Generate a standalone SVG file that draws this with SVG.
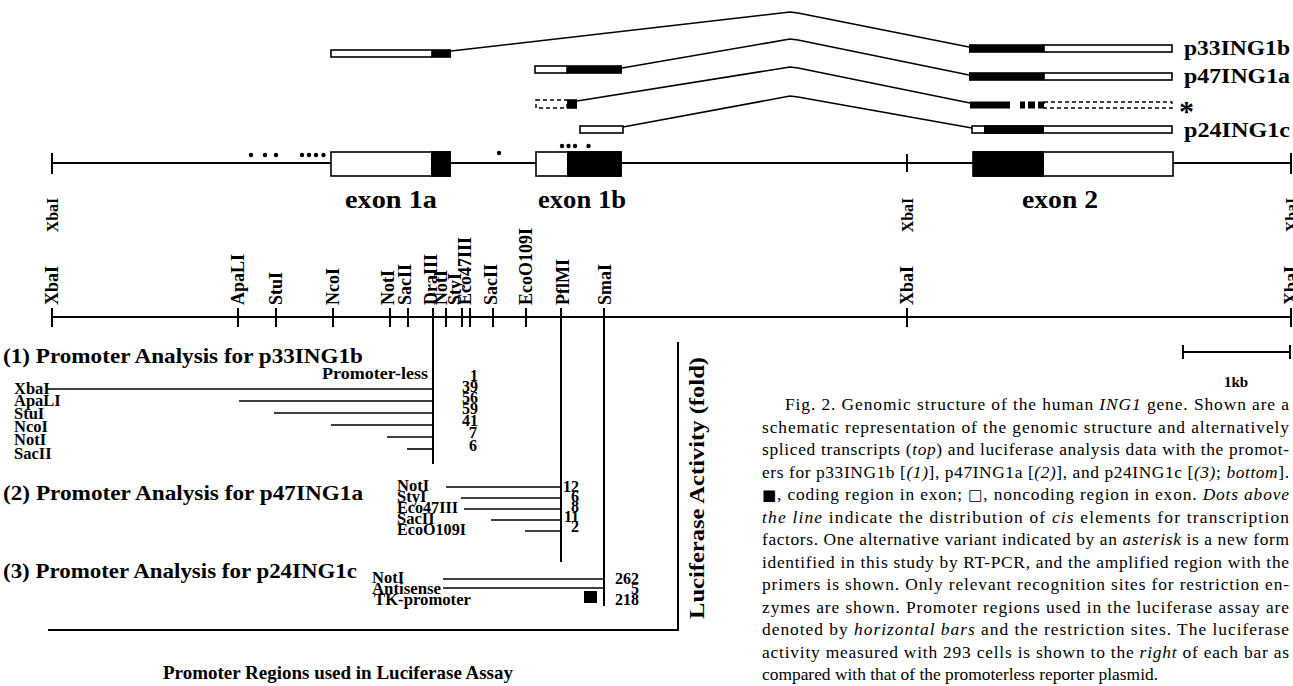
<svg xmlns="http://www.w3.org/2000/svg" width="1293" height="686" viewBox="0 0 1293 686">
<style>
.b{font-family:"Liberation Serif","Times New Roman",serif;font-weight:bold;fill:#000}
.cap{font-family:"Liberation Serif","Times New Roman",serif;font-size:17.4px;fill:#000}
.sym{font-family:"DejaVu Sans",sans-serif;font-size:15px}
.ln{stroke:#000;stroke-width:2;fill:none}
.th{stroke:#000;stroke-width:1.6;fill:none}
.wb{fill:#fff;stroke:#000;stroke-width:1.6}
.db{fill:#fff;stroke:#000;stroke-width:1.4;stroke-dasharray:4 3}
.k{fill:#000}
.rl{font-size:18px}
.sl{font-size:16.5px}
.nm{font-size:16px}
</style>
<rect width="1293" height="686" fill="#fff"/>

<g id="connectors">
<polyline class="th" points="451,51 790,12 798,13 969,47"/>
<polyline class="th" points="622,68 790,39 798,40 969,75"/>
<polyline class="th" points="577,101 790,67 798,68 970,103"/>
<polyline class="th" points="623,127 790,96 798,97 972,128"/>
</g>

<g id="transcript-p33ING1b">
<rect class="wb" x="331" y="50" width="101" height="7"/>
<rect class="k" x="432" y="49.2" width="19" height="8.6"/>
<rect class="wb" x="1044" y="45" width="128" height="7"/>
<rect class="k" x="969" y="44.2" width="75" height="8.6"/>
<text class="b" x="1184" y="55" font-size="22" textLength="106" lengthAdjust="spacingAndGlyphs">p33ING1b</text>
</g>
<g id="transcript-p47ING1a">
<rect class="wb" x="535" y="66" width="32" height="7"/>
<rect class="k" x="567" y="65.2" width="55" height="8.6"/>
<rect class="wb" x="1044" y="73" width="128" height="7"/>
<rect class="k" x="969" y="72.2" width="75" height="8.6"/>
<text class="b" x="1184" y="83" font-size="22" textLength="106" lengthAdjust="spacingAndGlyphs">p47ING1a</text>
</g>
<g id="transcript-asterisk">
<rect class="db" x="536" y="100" width="31" height="8"/>
<rect class="k" x="567" y="99.2" width="10" height="9.6"/>
<rect class="k" x="970" y="101.5" width="40" height="7"/>
<rect class="k" x="1020" y="101.5" width="5" height="7"/>
<rect class="k" x="1028" y="101.5" width="7" height="7"/>
<rect class="k" x="1038" y="101.5" width="6" height="7"/>
<rect class="db" x="1044" y="102" width="128" height="6"/>
<text class="b" x="1179" y="121" font-size="30">*</text>
</g>
<g id="transcript-p24ING1c">
<rect class="wb" x="580" y="126" width="43" height="7"/>
<rect class="wb" x="972" y="126" width="200" height="7"/>
<rect class="k" x="984" y="125.2" width="60" height="8.6"/>
<text class="b" x="1184" y="137" font-size="22" textLength="106" lengthAdjust="spacingAndGlyphs">p24ING1c</text>
</g>

<g id="gene-map">
<line class="ln" x1="52" y1="163" x2="1291" y2="163"/>
<line class="ln" x1="52" y1="153" x2="52" y2="174"/>
<line class="ln" x1="907" y1="154" x2="907" y2="172"/>
<line class="ln" x1="1291" y1="153" x2="1291" y2="174"/>
<g fill="#000">
<circle cx="251" cy="155" r="2.2"/><circle cx="265" cy="155" r="2.2"/><circle cx="276" cy="155" r="2.2"/>
<circle cx="302" cy="155" r="2.2"/><circle cx="309" cy="155" r="2.2"/><circle cx="316" cy="155" r="2.2"/><circle cx="323.5" cy="155" r="2.2"/>
<circle cx="499" cy="153" r="2.2"/>
<circle cx="562" cy="146" r="2.2"/><circle cx="568.5" cy="146" r="2.2"/><circle cx="575" cy="146" r="2.2"/><circle cx="588.5" cy="146" r="2.2"/>
</g>
</g>
<g id="exon-1a">
<rect class="wb" x="331" y="152" width="119" height="24"/>
<rect class="k" x="431" y="151.2" width="19.8" height="25.6"/>
<text class="b" x="391" y="208" font-size="26" text-anchor="middle" textLength="92" lengthAdjust="spacingAndGlyphs">exon 1a</text>
</g>
<g id="exon-1b">
<rect class="wb" x="536" y="152" width="85" height="24"/>
<rect class="k" x="567" y="151.2" width="54.8" height="25.6"/>
<text class="b" x="582" y="208" font-size="26" text-anchor="middle" textLength="88" lengthAdjust="spacingAndGlyphs">exon 1b</text>
</g>
<g id="exon-2">
<rect class="wb" x="973" y="152" width="200" height="24"/>
<rect class="k" x="973" y="151.2" width="71" height="25.6"/>
<text class="b" x="1060" y="208" font-size="26" text-anchor="middle" textLength="76" lengthAdjust="spacingAndGlyphs">exon 2</text>
</g>
<g id="gene-sites" class="b" font-size="16" text-anchor="middle">
<text transform="translate(58,215) rotate(-90)">XbaI</text>
<text transform="translate(913,215) rotate(-90)">XbaI</text>
<text transform="translate(1297,215) rotate(-90)">XbaI</text>
</g>

<g id="restriction-map">
<line class="ln" x1="52" y1="317" x2="1291" y2="317"/>
<g class="ln">
<line x1="52" y1="308" x2="52" y2="327"/>
<line x1="238" y1="308" x2="238" y2="327"/>
<line x1="276" y1="308" x2="276" y2="327"/>
<line x1="333" y1="308" x2="333" y2="327"/>
<line x1="390" y1="308" x2="390" y2="327"/>
<line x1="408" y1="308" x2="408" y2="327"/>
<line x1="433" y1="308" x2="433" y2="464"/>
<line x1="446" y1="308" x2="446" y2="327"/>
<line x1="462" y1="308" x2="462" y2="327"/>
<line x1="470" y1="308" x2="470" y2="327"/>
<line x1="493" y1="308" x2="493" y2="327"/>
<line x1="526" y1="308" x2="526" y2="327"/>
<line x1="561" y1="308" x2="561" y2="562"/>
<line x1="604" y1="308" x2="604" y2="606"/>
<line x1="907" y1="308" x2="907" y2="327"/>
<line x1="1291" y1="308" x2="1291" y2="327"/>
</g>
<g class="b rl">
<text transform="translate(58,305) rotate(-90)">XbaI</text>
<text transform="translate(244,305) rotate(-90)">ApaLI</text>
<text transform="translate(282,305) rotate(-90)">StuI</text>
<text transform="translate(339,305) rotate(-90)">NcoI</text>
<text transform="translate(394,305) rotate(-90)">NotI</text>
<text transform="translate(411,305) rotate(-90)">SacII</text>
<text transform="translate(437,305) rotate(-90)">DraIII</text>
<text transform="translate(447,305) rotate(-90)">NotI</text>
<text transform="translate(461,305) rotate(-90)">StyI</text>
<text transform="translate(471,305) rotate(-90)">Eco47III</text>
<text transform="translate(497,305) rotate(-90)">SacII</text>
<text transform="translate(532,305) rotate(-90)">EcoO109I</text>
<text transform="translate(569,305) rotate(-90)">PflMI</text>
<text transform="translate(611,305) rotate(-90)">SmaI</text>
<text transform="translate(913,305) rotate(-90)">XbaI</text>
<text transform="translate(1297,305) rotate(-90)">XbaI</text>
</g>
</g>

<g id="scale-bar">
<line class="ln" x1="1183" y1="352" x2="1290" y2="352"/>
<line class="ln" x1="1183" y1="345" x2="1183" y2="359"/>
<line class="ln" x1="1290" y1="345" x2="1290" y2="359"/>
<text class="b" x="1236" y="387" font-size="15" text-anchor="middle">1kb</text>
</g>

<g id="analysis-p33ING1b">
<text class="b" x="3" y="363" font-size="22" textLength="360" lengthAdjust="spacingAndGlyphs">(1) Promoter Analysis for p33ING1b</text>
<text class="b sl" x="428" y="379" text-anchor="end" textLength="106" lengthAdjust="spacingAndGlyphs">Promoter-less</text>
<g class="th">
<line x1="46" y1="389" x2="433" y2="389"/>
<line x1="239" y1="401" x2="433" y2="401"/>
<line x1="274" y1="413" x2="433" y2="413"/>
<line x1="331" y1="425" x2="433" y2="425"/>
<line x1="387" y1="437" x2="433" y2="437"/>
<line x1="407" y1="449" x2="433" y2="449"/>
</g>
<g class="b sl">
<text x="14" y="394">XbaI</text>
<text x="14" y="406">ApaLI</text>
<text x="14" y="419">StuI</text>
<text x="14" y="432">NcoI</text>
<text x="14" y="445">NotI</text>
<text x="14" y="459">SacII</text>
</g>
<g class="b nm" text-anchor="end">
<text x="478" y="381">1</text>
<text x="478" y="392">39</text>
<text x="478" y="403">56</text>
<text x="478" y="414">59</text>
<text x="478" y="426">41</text>
<text x="477" y="438">7</text>
<text x="477" y="451">6</text>
</g>
</g>

<g id="analysis-p47ING1a">
<text class="b" x="3" y="500" font-size="22" textLength="360" lengthAdjust="spacingAndGlyphs">(2) Promoter Analysis for p47ING1a</text>
<g class="th">
<line x1="446" y1="487" x2="561" y2="487"/>
<line x1="461" y1="498" x2="561" y2="498"/>
<line x1="464" y1="509" x2="561" y2="509"/>
<line x1="491" y1="520" x2="561" y2="520"/>
<line x1="525" y1="531" x2="561" y2="531"/>
</g>
<g class="b sl">
<text x="397" y="491">NotI</text>
<text x="397" y="502">StyI</text>
<text x="397" y="513" textLength="61" lengthAdjust="spacingAndGlyphs">Eco47III</text>
<text x="397" y="524">SacII</text>
<text x="397" y="535" textLength="69" lengthAdjust="spacingAndGlyphs">EcoO109I</text>
</g>
<g class="b nm" text-anchor="end">
<text x="579" y="492">12</text>
<text x="579" y="502">6</text>
<text x="579" y="512">8</text>
<text x="579" y="522">11</text>
<text x="579" y="532">2</text>
</g>
</g>

<g id="analysis-p24ING1c">
<text class="b" x="3" y="578" font-size="22" textLength="354" lengthAdjust="spacingAndGlyphs">(3) Promoter Analysis for p24ING1c</text>
<g class="th">
<line x1="443" y1="579" x2="604" y2="579"/>
<line x1="443" y1="588" x2="604" y2="588"/>
</g>
<rect class="k" x="584" y="591" width="13" height="12"/>
<g class="b sl">
<text x="372" y="583">NotI</text>
<text x="372" y="594" textLength="69" lengthAdjust="spacingAndGlyphs">Antisense</text>
<text x="374" y="605" textLength="97" lengthAdjust="spacingAndGlyphs">TK-promoter</text>
</g>
<g class="b nm" text-anchor="end">
<text x="639" y="584">262</text>
<text x="639" y="594">5</text>
<text x="639" y="605">218</text>
</g>
</g>

<g id="axes">
<polyline class="ln" points="678,342 678,630 48,630"/>
<text class="b" transform="translate(704,488) rotate(-90)" font-size="22" text-anchor="middle" textLength="262" lengthAdjust="spacingAndGlyphs">Luciferase Activity (fold)</text>
<text class="b" x="338" y="679" font-size="19.5" text-anchor="middle" textLength="350" lengthAdjust="spacingAndGlyphs">Promoter Regions used in Luciferase Assay</text>
</g>

<g id="caption" class="cap">
<text x="785" y="410" textLength="504" lengthAdjust="spacing">Fig. 2. Genomic structure of the human <tspan font-style="italic">ING1</tspan> gene. Shown are a</text>
<text x="762" y="432.5" textLength="527" lengthAdjust="spacing">schematic representation of the genomic structure and alternatively</text>
<text x="762" y="455" textLength="527" lengthAdjust="spacing">spliced transcripts (<tspan font-style="italic">top</tspan>) and luciferase analysis data with the promot-</text>
<text x="762" y="477.5" textLength="527" lengthAdjust="spacing">ers for p33ING1b [<tspan font-style="italic">(1)</tspan>], p47ING1a [<tspan font-style="italic">(2)</tspan>], and p24ING1c [<tspan font-style="italic">(3)</tspan>; <tspan font-style="italic">bottom</tspan>].</text>
<text x="762" y="500" textLength="527" lengthAdjust="spacing"><tspan class="sym">■</tspan>, coding region in exon; <tspan class="sym">□</tspan>, noncoding region in exon. <tspan font-style="italic">Dots above</tspan></text>
<text x="762" y="522.5" textLength="527" lengthAdjust="spacing"><tspan font-style="italic">the line</tspan> indicate the distribution of <tspan font-style="italic">cis</tspan> elements for transcription</text>
<text x="762" y="545" textLength="527" lengthAdjust="spacing">factors. One alternative variant indicated by an <tspan font-style="italic">asterisk</tspan> is a new form</text>
<text x="762" y="567.5" textLength="527" lengthAdjust="spacing">identified in this study by RT-PCR, and the amplified region with the</text>
<text x="762" y="590" textLength="527" lengthAdjust="spacing">primers is shown. Only relevant recognition sites for restriction en-</text>
<text x="762" y="612.5" textLength="527" lengthAdjust="spacing">zymes are shown. Promoter regions used in the luciferase assay are</text>
<text x="762" y="635" textLength="527" lengthAdjust="spacing">denoted by <tspan font-style="italic">horizontal bars</tspan> and the restriction sites. The luciferase</text>
<text x="762" y="657.5" textLength="527" lengthAdjust="spacing">activity measured with 293 cells is shown to the <tspan font-style="italic">right</tspan> of each bar as</text>
<text x="762" y="680">compared with that of the promoterless reporter plasmid.</text>
</g>
</svg>
